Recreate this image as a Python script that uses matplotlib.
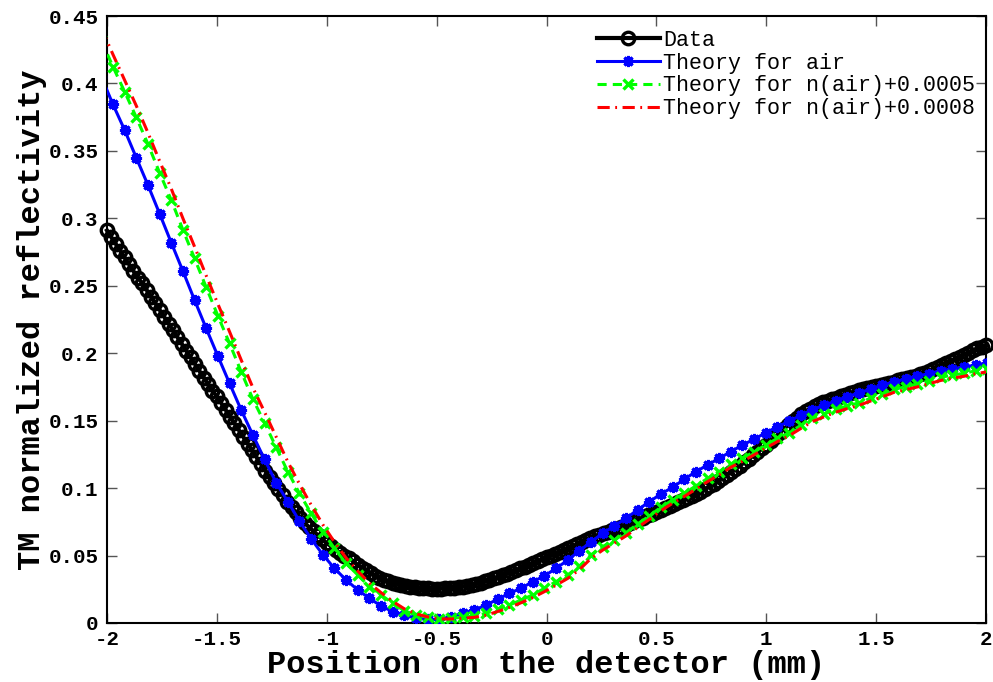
import numpy as np
import matplotlib
matplotlib.use("Agg")
import matplotlib.pyplot as plt
from matplotlib.ticker import FuncFormatter, MultipleLocator
from matplotlib.font_manager import FontProperties

plt.rcParams['axes.unicode_minus'] = False

# Measured reflectivity, sampled every 0.02 mm from -2 to 2 mm
data_x = np.linspace(-2.0, 2.0, 201)
data_y = [
    0.291, 0.286, 0.281, 0.276, 0.271, 0.266, 0.261, 0.256, 0.252, 0.247,
    0.242, 0.237, 0.232, 0.227, 0.222, 0.217, 0.212, 0.207, 0.202, 0.197,
    0.192, 0.187, 0.182, 0.177, 0.172, 0.168, 0.163, 0.158, 0.153, 0.148,
    0.143, 0.138, 0.133, 0.128, 0.123, 0.118, 0.113, 0.108, 0.104, 0.099,
    0.095, 0.090, 0.086, 0.082, 0.078, 0.074, 0.071, 0.068, 0.065, 0.062,
    0.059, 0.057, 0.054, 0.052, 0.050, 0.048, 0.046, 0.043, 0.041, 0.039,
    0.037, 0.035, 0.033, 0.032, 0.031, 0.030, 0.029, 0.028, 0.0275, 0.027,
    0.0265, 0.026, 0.0258, 0.0256, 0.0255, 0.0255, 0.0255, 0.0256, 0.0258, 0.026,
    0.0264, 0.0269, 0.0275, 0.0283, 0.0291, 0.030, 0.031, 0.032, 0.033, 0.034,
    0.0353, 0.0366, 0.0379, 0.0392, 0.0405, 0.0417, 0.043, 0.0444, 0.0458, 0.0472,
    0.0486, 0.050, 0.0514, 0.0527, 0.054, 0.0555, 0.057, 0.0584, 0.0599, 0.0613,
    0.063, 0.0642, 0.0654, 0.0666, 0.0677, 0.0689, 0.070, 0.0712, 0.0725, 0.0739,
    0.0753, 0.0768, 0.0782, 0.0797, 0.0811, 0.0826, 0.084, 0.0854, 0.0868, 0.0882,
    0.0896, 0.091, 0.0925, 0.094, 0.0956, 0.0973, 0.0992, 0.1012, 0.1032, 0.1054,
    0.1076, 0.1098, 0.112, 0.1143, 0.1166, 0.119, 0.1216, 0.1242, 0.1268, 0.1295,
    0.1323, 0.1352, 0.138, 0.1408, 0.1438, 0.1468, 0.1496, 0.1522, 0.1546, 0.1568,
    0.1588, 0.1606, 0.1622, 0.1636, 0.1648, 0.166, 0.1671, 0.1682, 0.1693, 0.1704,
    0.1714, 0.1724, 0.1733, 0.1742, 0.175, 0.1758, 0.1766, 0.1774, 0.1782, 0.179,
    0.1798, 0.1806, 0.1814, 0.1823, 0.1833, 0.1844, 0.1856, 0.1869, 0.1883, 0.1898,
    0.1913, 0.1928, 0.1943, 0.1958, 0.1973, 0.1989, 0.2005, 0.2021, 0.2036, 0.2049,
    0.2062,
]

# Simulated curves on the detector pixel grid
theory_x = np.linspace(-2.026, 2.006, 77)
theory_air = [
    0.405, 0.3845, 0.3655, 0.345, 0.3247, 0.3035, 0.282, 0.2609, 0.2394, 0.2184,
    0.1979, 0.1777, 0.1579, 0.1394, 0.1213, 0.1040, 0.0900, 0.0755, 0.0624, 0.0507,
    0.0405, 0.0319, 0.0245, 0.0183, 0.0126, 0.0084, 0.0059, 0.0035, 0.0027, 0.0027,
    0.0047, 0.0072, 0.0096, 0.0133, 0.0176, 0.0220, 0.0257, 0.0306, 0.0348, 0.0405,
    0.0465, 0.0535, 0.0600, 0.0665, 0.0719, 0.0776, 0.0838, 0.0899, 0.0956, 0.1006,
    0.1065, 0.1122, 0.1171, 0.1221, 0.1270, 0.1320, 0.1362, 0.1411, 0.1455, 0.1495,
    0.1540, 0.1582, 0.1614, 0.1646, 0.1678, 0.1706, 0.1734, 0.1765, 0.1786, 0.1810,
    0.1829, 0.1849, 0.1870, 0.1881, 0.1896, 0.1913, 0.1925,
]
theory_n5 = [
    0.432, 0.4124, 0.3939, 0.3749, 0.3551, 0.3338, 0.3136, 0.2915, 0.2703, 0.2488,
    0.2278, 0.2073, 0.1863, 0.1660, 0.1485, 0.1302, 0.1122, 0.0961, 0.0813, 0.0677,
    0.0553, 0.0442, 0.0356, 0.0269, 0.0208, 0.0146, 0.0091, 0.0059, 0.0042, 0.0027,
    0.0035, 0.0042, 0.0052, 0.0072, 0.0101, 0.0133, 0.0170, 0.0208, 0.0257, 0.0306,
    0.0356, 0.0420, 0.0504, 0.0566, 0.0615, 0.0669, 0.0734, 0.0793, 0.0858, 0.0912,
    0.0961, 0.1016, 0.1072, 0.1122, 0.1179, 0.1221, 0.1270, 0.1320, 0.1369, 0.1411,
    0.1465, 0.1517, 0.1549, 0.1584, 0.1609, 0.1633, 0.1666, 0.1698, 0.1732, 0.1752,
    0.1772, 0.1796, 0.1821, 0.1838, 0.1851, 0.1870, 0.1885,
]
theory_n8 = [
    0.441, 0.4215, 0.4025, 0.3835, 0.3635, 0.3425, 0.3220, 0.3000, 0.2790, 0.2575,
    0.2365, 0.2160, 0.1950, 0.1745, 0.1565, 0.1380, 0.1195, 0.1030, 0.0875, 0.0730,
    0.0600, 0.0482, 0.0385, 0.0295, 0.0225, 0.0160, 0.0105, 0.0068, 0.0045, 0.0030,
    0.0030, 0.0035, 0.0042, 0.0058, 0.0085, 0.0115, 0.0150, 0.0188, 0.0232, 0.0280,
    0.0330, 0.0395, 0.0478, 0.0540, 0.0592, 0.0645, 0.0708, 0.0768, 0.0832, 0.0888,
    0.0938, 0.0992, 0.1048, 0.1098, 0.1155, 0.1198, 0.1247, 0.1297, 0.1345, 0.1388,
    0.1442, 0.1494, 0.1528, 0.1563, 0.1590, 0.1614, 0.1646, 0.1677, 0.1710, 0.1730,
    0.1750, 0.1774, 0.1798, 0.1815, 0.1829, 0.1848, 0.1862,
]

labels = ["Data", "Theory for air", "Theory for n(air)+0.0005",
          "Theory for n(air)+0.0008"]

mono_bold = FontProperties(family="Liberation Mono", weight="bold", size=15)
mono_label = FontProperties(family="Liberation Mono", weight="bold", size=23)
mono_legend = FontProperties(family="Liberation Mono", size=15.6)

fig = plt.figure(figsize=(9.93, 6.82), dpi=100)
ax = fig.add_axes([107 / 993, 59 / 682, 879 / 993, 607 / 682])

ax.plot(data_x, data_y, color="black", lw=3, marker="o", ms=9,
        mfc="none", mec="black", mew=2.4, clip_on=False, zorder=2,
        label=labels[0])
ax.plot(theory_x, theory_air, color=(0, 0, 1), lw=2.2, ls="-",
        marker=(8, 2, 0), ms=8, mew=2.2, zorder=3, label=labels[1])
ax.plot(theory_x, theory_n5, color=(0, 1, 0), lw=2.2, ls=(0, (3, 2)),
        marker="x", ms=7, mew=2.4, zorder=4, label=labels[2])
ax.plot(theory_x, theory_n8, color=(1, 0, 0), lw=2.2,
        ls=(0, (4, 1.8, 0.6, 1.8)), zorder=5, label=labels[3])

ax.set_xlim(-2, 2)
ax.set_ylim(0, 0.45)
ax.xaxis.set_major_locator(MultipleLocator(0.5))
ax.yaxis.set_major_locator(MultipleLocator(0.05))
fmt = FuncFormatter(lambda v, p: "%g" % round(v, 4))
ax.xaxis.set_major_formatter(fmt)
ax.yaxis.set_major_formatter(fmt)

ax.tick_params(direction="in", length=7, width=1, top=True, right=True,
               color="#555555")
ax.tick_params(axis="x", pad=5)
ax.tick_params(axis="y", pad=6)
for lab in ax.get_xticklabels() + ax.get_yticklabels():
    lab.set_fontproperties(mono_bold)
for s in ax.spines.values():
    s.set_linewidth(1.5)

ax.set_xlabel("Position on the detector (mm)", fontproperties=mono_label,
              labelpad=1)
ax.set_ylabel("TM normalized reflectivity", fontproperties=mono_label,
              labelpad=1)

ax.legend(loc="upper left", bbox_to_anchor=(597 / 993, (682 - 30) / 682),
          bbox_transform=fig.transFigure, frameon=False, prop=mono_legend,
          handlelength=2.9, handletextpad=0.15, labelspacing=0.08,
          borderpad=0, borderaxespad=0)

fig.savefig("out.png", dpi=100)
